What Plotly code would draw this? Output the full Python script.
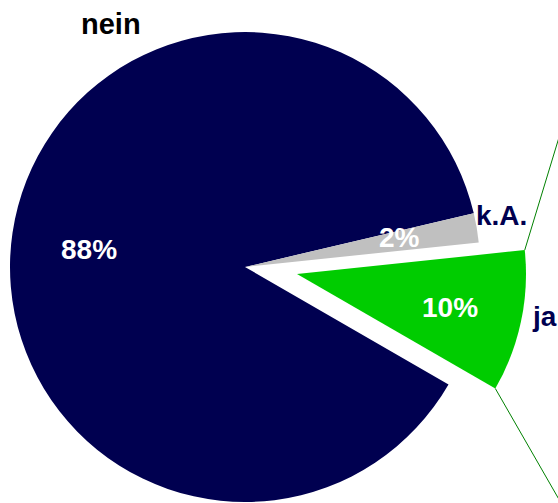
import math
import plotly.graph_objects as go

# Survey answers (percent), listed clockwise starting with the exploded slice
labels = ["ja", "nein", "k.A."]
values = [10, 88, 2]
slice_colors = ["#00CC00", "#000050", "#C0C0C0"]
label_colors = ["#000050", "#000000", "#000050"]

W, H = 558, 503
ROTATION = 84          # start angle of the first slice, degrees clockwise from 12 o'clock
CLEAR = "rgba(0,0,0,0)"
FONT = "Liberation Sans, Arial"

# Pixel geometry of the two pie layers
MAIN_C, MAIN_R = (245, 267), 235
EXPL_C, EXPL_R = (297, 274), 229


def domain(center, r):
    cx, cy = center
    x0, x1 = (cx - r) / W, (cx + r) / W
    y0, y1 = (H - (cy + r)) / H, (H - (cy - r)) / H
    return dict(x=[max(0, x0), min(1, x1)], y=[max(0, y0), min(1, y1)])


def px(x, y):
    return x / W, 1 - y / H


fig = go.Figure()

# Base pie: every slice except the exploded one
fig.add_trace(go.Pie(
    labels=labels, values=values, sort=False, direction="clockwise",
    rotation=ROTATION, textinfo="none", hoverinfo="skip", showlegend=False,
    marker=dict(colors=[CLEAR if i == 0 else c for i, c in enumerate(slice_colors)]),
    domain=domain(MAIN_C, MAIN_R),
))

# Exploded slice drawn on its own, shifted outwards
fig.add_trace(go.Pie(
    labels=labels, values=values, sort=False, direction="clockwise",
    rotation=ROTATION, textinfo="none", hoverinfo="skip", showlegend=False,
    marker=dict(colors=[c if i == 0 else CLEAR for i, c in enumerate(slice_colors)]),
    domain=domain(EXPL_C, EXPL_R),
))

# Corners of the exploded slice's outer arc, from the slice's angles
total = sum(values)
a0 = math.radians(ROTATION)
a1 = math.radians(ROTATION + 360 * values[0] / total)
cx, cy = EXPL_C
top_corner = (cx + EXPL_R * math.sin(a0), cy - EXPL_R * math.cos(a0))
bot_corner = (cx + EXPL_R * math.sin(a1), cy - EXPL_R * math.cos(a1))

# Connector lines running off towards the detail chart on the right
shapes = []
for (sx, sy), (dx, dy) in [(top_corner, (0.304, -1.0)), (bot_corner, (0.574, 1.0))]:
    t = 160
    ex, ey = sx + dx * t, sy + dy * t
    x0, y0 = px(sx, sy)
    x1, y1 = px(ex, ey)
    shapes.append(dict(type="line", xref="paper", yref="paper",
                       x0=x0, y0=y0, x1=x1, y1=y1,
                       line=dict(color="#008000", width=1)))

# Text: percentages inside the slices, category names outside
pct_pos = {"ja": (450, 307), "nein": (89, 249), "k.A.": (399, 237)}
name_pos = {"ja": (530, 316, "left", 28), "nein": (111, 24, "center", 29),
            "k.A.": (501, 215, "center", 28)}

annotations = []
for lab, val, lc in zip(labels, values, label_colors):
    x, y = px(*pct_pos[lab])
    annotations.append(dict(
        x=x, y=y, xref="paper", yref="paper", showarrow=False,
        text=f"{val}%", xanchor="center", yanchor="middle",
        font=dict(family=FONT, size=28, color="white", weight="bold"),
    ))
    nx, ny, anchor, size = name_pos[lab]
    x, y = px(nx, ny)
    annotations.append(dict(
        x=x, y=y, xref="paper", yref="paper", showarrow=False,
        text=lab, xanchor=anchor, yanchor="middle",
        font=dict(family=FONT, size=size, color=lc, weight="bold"),
    ))

fig.update_layout(
    width=W, height=H,
    margin=dict(l=0, r=0, t=0, b=0),
    paper_bgcolor="white", plot_bgcolor="white",
    shapes=shapes, annotations=annotations,
)

fig.write_html("out.html")
